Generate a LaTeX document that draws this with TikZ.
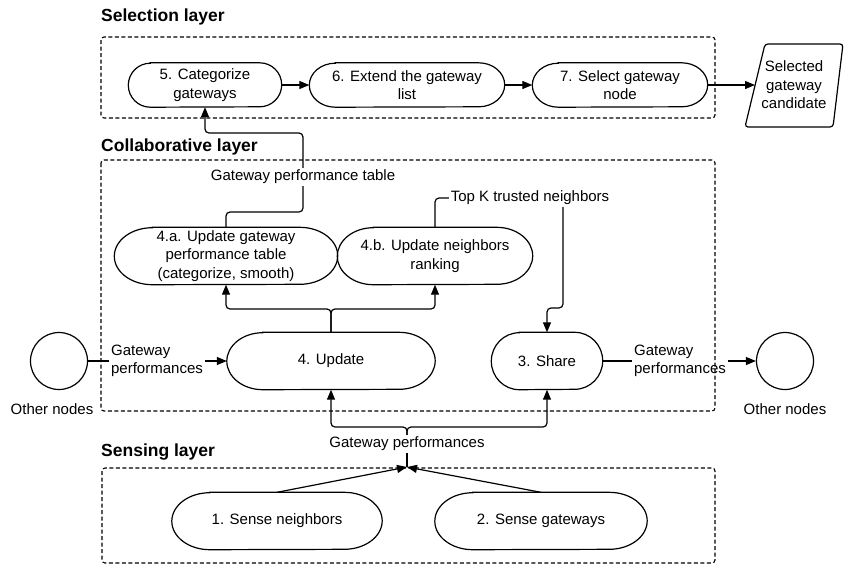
\documentclass[tikz,border=0pt]{standalone}
\usepackage{fontspec}
\setmainfont{Liberation Sans}
\usetikzlibrary{arrows.meta}

% pill-shaped process box with elliptical ends:
% #1 name, #2 x, #3 y, #4 width, #5 height, #6 end radius, #7 text
\newcommand\pillbox[7]{%
  \node[pilltext, minimum width=#4pt, minimum height=#5pt] (#1) at (#2,#3) {#7};
  \draw[outline] ([xshift=#6pt]#1.north west) -- ([xshift=-#6pt]#1.north east)
    arc[start angle=90, end angle=-90, x radius=#6pt, y radius=#5pt/2]
    -- ([xshift=#6pt]#1.south west)
    arc[start angle=270, end angle=90, x radius=#6pt, y radius=#5pt/2] -- cycle;
}

\begin{document}
\begin{tikzpicture}[x=1pt, y=-1pt,
  every node/.style={font=\fontsize{15}{18.5}\selectfont, inner sep=0pt},
  title/.style={font=\fontsize{17.5}{20}\selectfont\bfseries, anchor=west},
  layer/.style={draw, dash pattern=on 4pt off 2.5pt, line width=1.1pt, rounded corners=3pt},
  pilltext/.style={align=center},
  outline/.style={line width=1.2pt},
  conn/.style={line width=1.2pt, rounded corners=4pt},
  arr/.style={conn, -{Triangle[length=10pt,width=8pt]}},
  lbl/.style={fill=white, inner sep=2pt},
  peer/.style={draw, circle, line width=1.2pt, minimum size=57pt},
]
\useasboundingbox (0,0) rectangle (845,566);

% layer titles
\node[title] (tsel) at (101,17) {Selection layer};
\node[title] (tcol) at (101,147) {Collaborative layer};
\node[title] (tsen) at (101,452) {Sensing layer};

% selection layer
\pillbox{n5}{205}{85}{153}{44}{22}{5. Categorize\\gateways}
\pillbox{n6}{407}{85}{195}{44}{26}{6. Extend the gateway\\list}
\pillbox{n7}{620}{85}{175}{44}{26}{7. Select gateway\\node}

% output: selected candidate
\node[align=center] (sel) at (794,85) {Selected\\gateway\\candidate};
\draw[outline, rounded corners=3pt] (765,44) -- (843,44) -- (833,127) -- (745,127) -- cycle;
\coordinate (selin) at (755,85);

% collaborative layer
\pillbox{n4a}{226}{256}{223}{57}{38}{4.a. Update gateway\\performance table\\(categorize, smooth)}
\pillbox{n4b}{435}{256}{195}{57}{36}{4.b. Update neighbors\\ranking}
\pillbox{n4}{331}{361}{208}{57}{36}{4. Update}
\pillbox{n3}{547}{361}{111}{57}{28}{3. Share}

% peers
\node[peer] (oL) at (59,361) {};
\node[peer] (oR) at (785,361) {};
\node (oLt) at (52,409) {Other nodes};
\node (oRt) at (785,409) {Other nodes};

% sensing layer
\pillbox{n1}{277}{521}{210}{57}{38}{1. Sense neighbors}
\pillbox{n2}{541}{521}{212}{57}{38}{2. Sense gateways}
\coordinate (join) at (407,467);

% connectors
\draw[arr] (n5) -- (n6);
\draw[arr] (n6) -- (n7);
\draw[arr] (n7) -- (selin);

\draw[arr] (n4a.north) |- (303,212) -- (303,133) -| (n5.south);
\draw[arr] (n4b.north) |- (563,198) -- (563,308) -| (n3.north);

\draw[arr] (n4.north) -- (n4.north |- 0,309) -| (n4a.south);
\draw[arr] (n4.north) -- (n4.north |- 0,309) -| (n4b.south);

\draw[arr] (oL) -- (n4);
\draw[arr] (n3) -- (oR);

\draw[conn] (join) -- (407,440);
\draw[arr] (407,440) -- (407,427) -| (n4.south);
\draw[arr] (407,440) -- (407,427) -| (n3.south);

\draw[arr] (n1.north) -- (join);
\draw[arr] (n2.north) -- (join);

% connector labels
\node[lbl] (lgpt) at (303,177) {Gateway performance table};
\node[lbl] (ltopk) at (530,198) {Top K trusted neighbors};
\node[lbl, align=left] (lin) at (157,361) {Gateway\\performances};
\node[lbl, align=left] (lout) at (680,361) {Gateway\\performances};
\node[lbl] (lsense) at (407,444) {Gateway performances};

% layer frames
\draw[layer] (101,37) rectangle (715,118);
\draw[layer] (101,160) rectangle (715,411);
\draw[layer] (102,468) rectangle (715,563);
\end{tikzpicture}
\end{document}
